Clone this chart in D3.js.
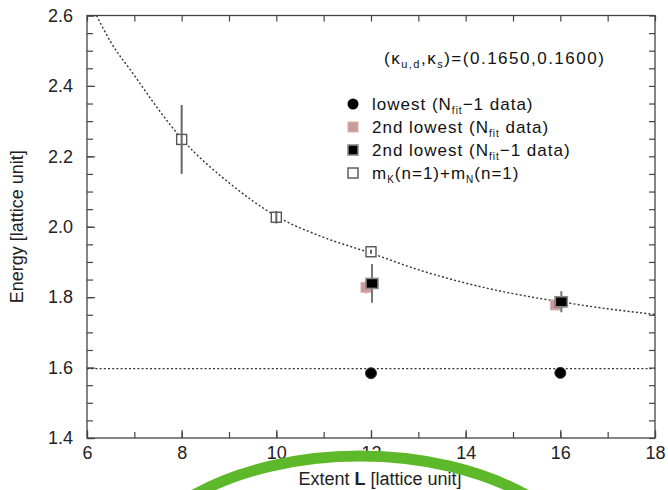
<!DOCTYPE html>
<html>
<head>
<meta charset="utf-8">
<script src="https://cdn.jsdelivr.net/npm/d3@7"></script>
<style>
  body { margin: 0; background: #fff; }
  svg { display: block; font-family: "Liberation Sans", Arial, sans-serif; }
</style>
</head>
<body>
<svg width="668" height="490"></svg>
<script>
// Values
var lowestL = [12, 16];
var lowestE = [1.584, 1.585];
var lowestErr = [0.008, 0.008];

var nfitL = [12, 16];
var nfitE = [1.828, 1.778];
var nfitErr = [0.018, 0.012];

var nfit1L = [12, 16];
var nfit1E = [1.839, 1.787];
var nfit1Err = [0.055, 0.03];

var mkmnL = [8, 10, 12, 16];
var mkmnE = [2.248, 2.027, 1.929, 1.787];
var mkmnErr = [0.098, 0.018, 0.006, 0.01];

// dotted curve m_K + m_N
var curveL = [6.2, 6.5, 7, 7.5, 8, 9, 10, 11, 12, 13, 14, 15, 16, 17, 18];
var curveE = [2.6, 2.525, 2.43, 2.335, 2.25, 2.125, 2.03, 1.97, 1.925, 1.878, 1.84, 1.81, 1.787, 1.767, 1.751];
// horizontal dotted threshold
var threshE = 1.597;

var xTicks = [6, 8, 10, 12, 14, 16, 18];
var yTicks = [1.4, 1.6, 1.8, 2.0, 2.2, 2.4, 2.6];

var svg = d3.select("svg");
var x = d3.scaleLinear().domain([6, 18]).range([87, 655]);
var y = d3.scaleLinear().domain([1.4, 2.6]).range([438, 15.5]);
var axisColor = "#444";

// frame
svg.append("rect")
    .attr("x", x(6)).attr("y", y(2.6))
    .attr("width", x(18) - x(6)).attr("height", y(1.4) - y(2.6))
    .attr("fill", "none").attr("stroke", axisColor).attr("stroke-width", 1.3);

function styleAxis(g) {
    g.select(".domain").remove();
    g.selectAll("line").attr("stroke", axisColor).attr("stroke-width", 1.2);
    g.selectAll("text").attr("fill", "#222").style("font-size", "18px")
        .style("font-family", "'Liberation Sans', Arial, sans-serif");
}

var minorX = d3.range(6, 18.01, 1);
var minorY = d3.range(1.4, 2.601, 0.05);

// bottom
svg.append("g").attr("transform", "translate(0," + y(1.4) + ")")
    .call(d3.axisBottom(x).tickValues(minorX).tickSize(-6).tickFormat(""))
    .call(styleAxis);
svg.append("g").attr("transform", "translate(0," + y(1.4) + ")")
    .call(d3.axisBottom(x).tickValues(xTicks).tickSize(-8).tickPadding(8).tickFormat(d3.format("d")))
    .call(styleAxis);
// top
svg.append("g").attr("transform", "translate(0," + y(2.6) + ")")
    .call(d3.axisTop(x).tickValues(minorX).tickSize(-6).tickFormat(""))
    .call(styleAxis);
// left
svg.append("g").attr("transform", "translate(" + x(6) + ",0)")
    .call(d3.axisLeft(y).tickValues(minorY).tickSize(-6).tickFormat(""))
    .call(styleAxis);
svg.append("g").attr("transform", "translate(" + x(6) + ",0)")
    .call(d3.axisLeft(y).tickValues(yTicks).tickSize(-8).tickPadding(14).tickFormat(d3.format(".1f")))
    .call(styleAxis);
// right
svg.append("g").attr("transform", "translate(" + x(18) + ",0)")
    .call(d3.axisRight(y).tickValues(minorY).tickSize(-6).tickFormat(""))
    .call(styleAxis);

// axis titles
svg.append("text")
    .attr("transform", "translate(23," + y(2.0) + ") rotate(-90)")
    .attr("text-anchor", "middle")
    .style("font-size", "18px").attr("fill", "#222")
    .text("Energy [lattice unit]");

var xt = svg.append("text")
    .attr("x", 380).attr("y", 485)
    .attr("text-anchor", "middle")
    .style("font-size", "18px").attr("fill", "#222");
xt.append("tspan").text("Extent  ");
xt.append("tspan").style("font-weight", "bold").text("L");
xt.append("tspan").text(" [lattice unit]");

// dotted lines
var dotted = { stroke: "#333", width: 1.4, dash: "2,2.2" };
svg.append("line")
    .attr("x1", x(6)).attr("x2", x(18))
    .attr("y1", y(threshE)).attr("y2", y(threshE))
    .attr("stroke", dotted.stroke).attr("stroke-width", dotted.width)
    .attr("stroke-dasharray", dotted.dash);

var curvePts = curveL.map(function (l, i) { return [l, curveE[i]]; });
svg.append("path")
    .datum(curvePts)
    .attr("d", d3.line().x(function (d) { return x(d[0]); }).y(function (d) { return y(d[1]); })
        .curve(d3.curveMonotoneX))
    .attr("fill", "none")
    .attr("stroke", dotted.stroke).attr("stroke-width", dotted.width)
    .attr("stroke-dasharray", dotted.dash);

function zip(L, E, err) {
    return L.map(function (l, i) { return { L: l, E: E[i], err: err[i] }; });
}

function errorBars(data, dx, color) {
    svg.append("g").selectAll("line").data(data).enter().append("line")
        .attr("x1", function (d) { return x(d.L) + dx; })
        .attr("x2", function (d) { return x(d.L) + dx; })
        .attr("y1", function (d) { return y(d.E + d.err); })
        .attr("y2", function (d) { return y(d.E - d.err); })
        .attr("stroke", color).attr("stroke-width", 2);
}

// 2nd lowest (N_fit data) pink
var nfit = zip(nfitL, nfitE, nfitErr);
errorBars(nfit, -5, "#d9b3b3");
svg.append("g").selectAll("rect").data(nfit).enter().append("rect")
    .attr("x", function (d) { return x(d.L) - 5 - 5; })
    .attr("y", function (d) { return y(d.E) - 5; })
    .attr("width", 10).attr("height", 10)
    .attr("fill", "#c99a9a").attr("stroke", "#d8b0b0").attr("stroke-width", 1);

// m_K + m_N open squares
var mkmn = zip(mkmnL, mkmnE, mkmnErr);
svg.append("g").selectAll("rect").data(mkmn).enter().append("rect")
    .attr("x", function (d) { return x(d.L) - 5; })
    .attr("y", function (d) { return y(d.E) - 5; })
    .attr("width", 10).attr("height", 10)
    .attr("fill", "#fff").attr("stroke", "#555").attr("stroke-width", 1.4);
errorBars(mkmn, 0, "#666");

// 2nd lowest (N_fit-1 data) black squares
var nfit1 = zip(nfit1L, nfit1E, nfit1Err);
errorBars(nfit1, 1, "#777");
svg.append("g").selectAll("rect").data(nfit1).enter().append("rect")
    .attr("x", function (d) { return x(d.L) + 1 - 6; })
    .attr("y", function (d) { return y(d.E) - 5; })
    .attr("width", 12).attr("height", 10)
    .attr("fill", "#000").attr("stroke", "#888").attr("stroke-width", 1.6);

// lowest filled circles
var lowest = zip(lowestL, lowestE, lowestErr);
errorBars(lowest, 0, "#222");
svg.append("g").selectAll("circle").data(lowest).enter().append("circle")
    .attr("cx", function (d) { return x(d.L); })
    .attr("cy", function (d) { return y(d.E); })
    .attr("r", 5.5)
    .attr("fill", "#000").attr("stroke", "#333").attr("stroke-width", 1);

// kappa label
var kap = svg.append("text").attr("x", 384).attr("y", 64)
    .style("font-size", "17px").style("letter-spacing", "1.5px").attr("fill", "#111");
kap.append("tspan").text("(\u03ba");
kap.append("tspan").attr("dy", 4).style("font-size", "11px").text("u,d");
kap.append("tspan").attr("dy", -4).text(",\u03ba");
kap.append("tspan").attr("dy", 4).style("font-size", "11px").text("s");
kap.append("tspan").attr("dy", -4).text(")=(0.1650,0.1600)");

// legend
var legendY = [104, 127, 150, 173];
var lx = 353, tx = 372;
svg.append("circle").attr("cx", lx).attr("cy", legendY[0]).attr("r", 5.5).attr("fill", "#000");
svg.append("rect").attr("x", lx - 5).attr("y", legendY[1] - 5).attr("width", 10).attr("height", 10)
    .attr("fill", "#c99a9a").attr("stroke", "#d8b0b0");
svg.append("rect").attr("x", lx - 5).attr("y", legendY[2] - 5).attr("width", 10).attr("height", 10)
    .attr("fill", "#000").attr("stroke", "#888").attr("stroke-width", 1.6);
svg.append("rect").attr("x", lx - 5).attr("y", legendY[3] - 5).attr("width", 10).attr("height", 10)
    .attr("fill", "#fff").attr("stroke", "#555").attr("stroke-width", 1.4);

function legendText(i, parts) {
    var t = svg.append("text").attr("x", tx).attr("y", legendY[i] + 6)
        .style("font-size", "17px").style("letter-spacing", "1px").attr("fill", "#111");
    parts.forEach(function (p) {
        var s = t.append("tspan").text(p[0]);
        if (p[1]) s.attr("dy", p[1]);
        if (p[2]) s.style("font-size", p[2]);
    });
}
legendText(0, [["lowest (N"], ["fit", 4, "10px"], ["\u22121 data)", -4]]);
legendText(1, [["2nd lowest (N"], ["fit", 4, "10px"], [" data)", -4]]);
legendText(2, [["2nd lowest (N"], ["fit", 4, "10px"], ["\u22121 data)", -4]]);
legendText(3, [["m"], ["K", 4, "10px"], ["(n=1)+m", -4], ["N", 4, "10px"], ["(n=1)", -4]]);

// green arc overlay at the bottom
svg.append("ellipse")
    .attr("cx", 360).attr("cy", 600).attr("rx", 243).attr("ry", 144)
    .attr("fill", "none").attr("stroke", "#5db82a").attr("stroke-width", 11);
</script>
</body>
</html>
